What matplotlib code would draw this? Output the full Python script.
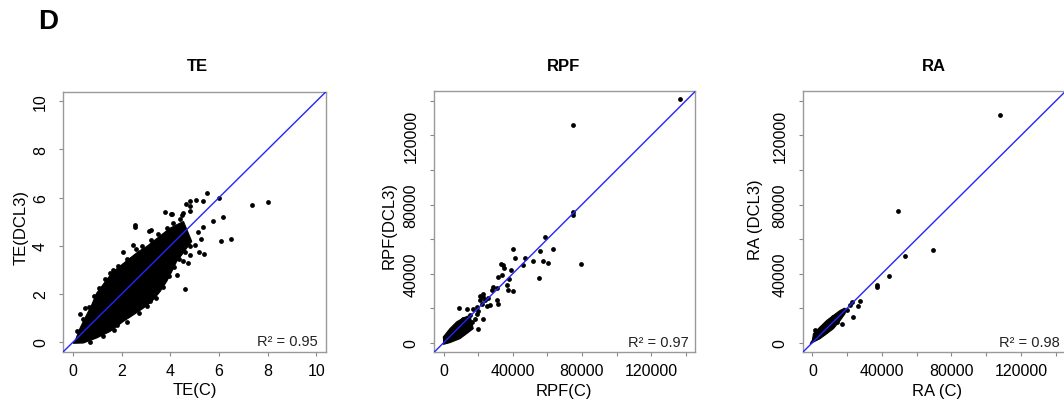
import matplotlib.pyplot as plt
from matplotlib.ticker import FixedLocator

plt.rcParams['font.family'] = ['Liberation Sans', 'DejaVu Sans']

# ---- data ----
# TE: dense core of the cloud (outline) + visible single points
te_cloud_x = [0.0, 0.08, 0.29, 0.56, 0.77, 0.97, 1.18, 1.38, 1.66, 2.0, 2.35, 2.69, 3.03, 3.37,
              3.72, 3.99, 4.26, 4.54, 4.88, 4.67, 4.47, 4.26, 4.06, 3.85, 3.58, 3.24, 2.89, 2.48,
              2.07, 1.52, 0.97, 0.42]
te_cloud_y = [-0.05, 0.03, 0.58, 1.13, 1.55, 2.03, 2.31, 2.59, 2.93, 3.21, 3.49, 3.76, 3.97, 4.24,
              4.52, 4.73, 4.87, 5.01, 4.18, 3.90, 3.62, 3.35, 2.93, 2.52, 2.10, 1.69, 1.41, 1.13,
              0.86, 0.44, 0.17, -0.04]
te_x = [5.50, 5.99, 7.37, 8.01, 6.16, 5.74, 6.09, 6.51, 5.38, 5.06, 5.33, 4.79, 4.65, 4.81, 4.05,
        4.51, 5.25, 5.33, 5.13, 3.11, 2.56, 3.79, 4.02, 4.47, 4.79, 2.55, 3.19, 2.48, 2.07, 1.66,
        1.25, 0.49, 0.29, 4.61, 3.17, 2.28, 1.79, 4.26, 4.54, 4.74, 4.81, 5.02, 5.16,
        0.15, 0.40, 0.65, 0.85, 1.05, 1.30, 1.50, 1.85, 2.20, 2.60, 2.85, 3.20, 3.50, 3.85, 4.10,
        4.40, 0.70, 1.25, 1.70, 2.20, 2.70, 3.05, 3.40, 3.70, 3.95, 4.15, 4.35, 4.60, 4.80]
te_y = [6.18, 5.97, 5.71, 5.81, 5.19, 5.03, 4.20, 4.30, 3.64, 5.90, 5.86, 5.84, 5.73, 5.64, 5.31,
        5.35, 4.29, 4.80, 4.59, 4.63, 4.77, 5.42, 5.31, 5.28, 5.45, 4.87, 4.66, 4.04, 3.76, 3.00,
        2.24, 1.41, 1.16, 2.21, 1.69, 1.11, 0.72, 2.79, 3.35, 3.28, 3.62, 4.04, 3.76,
        0.45, 0.95, 1.45, 1.90, 2.25, 2.60, 2.85, 3.15, 3.45, 3.85, 4.00, 4.25, 4.50, 4.75, 4.95,
        5.10, 0.00, 0.25, 0.50, 0.85, 1.20, 1.50, 1.85, 2.30, 2.75, 3.10, 3.45, 3.75, 4.00]

# RPF
rpf_core_x = [0, -200, 3600, 7500, 11300, 15200, 17100, 13300, 9400, 3600, -200]
rpf_core_y = [0, 3300, 8100, 12000, 14300, 15800, 8100, 5200, 2300, 0, -1000]
rpf_x = [136600, 74900, 74900, 74600, 58600, 40200, 55700, 63400, 41200, 47000, 51800, 57600,
         60100, 79200, 55300, 45700, 33100, 34100, 34900, 38700, 31600, 33500, 37700, 28700,
         30600, 27700, 36400, 37300, 40200, 21000, 22900, 25800, 30600, 31600, 26800, 9000,
         13300, 17100, 19100, 15200, 11300, 20000, 22900, 19100, 22000, 23900, 21000, 22900,
         20000, 24900, 18100, 16200, 14200, 12300]
rpf_y = [141400, 126200, 75500, 74000, 61400, 54300, 53300, 54300, 49000, 49000, 47200, 47000,
         46100, 45700, 37600, 44700, 45700, 44700, 43200, 41800, 38000, 39300, 37000, 32200,
         31600, 30600, 33100, 30600, 29900, 27300, 28300, 25800, 24500, 22500, 21600, 20000,
         19700, 19200, 16800, 15800, 13900, 8100, 13900, 20600, 22500, 24500, 24500, 26400,
         18100, 21200, 13900, 12000, 10000, 8100]

# RA
ra_core_x = [0, 600, 4400, 8300, 12100, 16000, 18800, 18800, 16000, 12100, 8300, 4400, -1300]
ra_core_y = [1500, 5200, 9100, 12900, 15800, 18700, 20000, 16800, 12900, 8100, 5200, 2300, -600]
ra_x = [107700, 49200, 69400, 53000, 43800, 37400, 37400, 27100, 26500, 23600, 22700, 21700,
        19800, 17900, 16000, 12100, 14100, 1600, 16900]
ra_y = [132000, 76100, 53900, 49900, 38600, 33500, 32200, 24400, 21200, 14900, 23500, 21600,
        18700, 18700, 16800, 14900, 12000, 7500, 11000]

panels = [
    dict(title='TE', xl='TE(C)', yl='TE(DCL3)', r2='R² = 0.95', cx=te_cloud_x, cy=te_cloud_y,
         x=te_x, y=te_y, lim=(-0.4, 10.4), major=[0, 2, 4, 6, 8, 10], minor=[],
         rect=[0.0595, 0.1313, 0.2469, 0.6404], tx=0.509, xlx=0.50, ylx=-0.162, yly=0.483,
         r2x=0.970),
    dict(title='RPF', xl='RPF(C)', yl='RPF(DCL3)', r2='R² = 0.97', cx=rpf_core_x, cy=rpf_core_y,
         x=rpf_x, y=rpf_y, lim=(-5600, 145600), major=[0, 40000, 80000, 120000],
         minor=[20000, 60000, 100000, 140000],
         rect=[0.4079, 0.1298, 0.2456, 0.6429], tx=0.497, xlx=0.4975, ylx=-0.171, yly=0.49,
         r2x=0.975),
    dict(title='RA', xl='RA (C)', yl='RA (DCL3)', r2='R² = 0.98', cx=ra_core_x, cy=ra_core_y,
         x=ra_x, y=ra_y, lim=(-5600, 145600), major=[0, 40000, 80000, 120000],
         minor=[20000, 60000, 100000, 140000],
         rect=[0.7544, 0.1298, 0.2470, 0.6429], tx=0.50, xlx=0.513, ylx=-0.178, yly=0.51,
         r2x=0.979),
]

fig = plt.figure(figsize=(10.64, 4.06), dpi=100)
fig.text(0.0355, 0.945, 'D', fontsize=20, fontweight='bold', ha='left', va='center')

for p in panels:
    ax = fig.add_axes(p['rect'])
    ax.fill(p['cx'], p['cy'], color='black', lw=0.8, ec='black', zorder=2)
    ax.scatter(p['x'], p['y'], s=12, color='black', lw=0, zorder=3)
    ax.plot(p['lim'], p['lim'], color='#2424ff', lw=1.0, zorder=4)
    ax.set_xlim(p['lim'])
    ax.set_ylim(p['lim'])
    for a in (ax.xaxis, ax.yaxis):
        a.set_major_locator(FixedLocator(p['major']))
        a.set_minor_locator(FixedLocator(p['minor']))
    ax.set_xticklabels([str(v) for v in p['major']])
    ax.set_yticklabels([str(v) for v in p['major']], rotation=90, va='center')
    ax.tick_params(which='both', length=3, width=0.8, color='#888888', labelsize=11.5)
    ax.tick_params(axis='x', pad=5)
    ax.tick_params(axis='y', pad=8)
    for s in ax.spines.values():
        s.set_color('#999999')
        s.set_linewidth(1.0)
    ax.text(p['tx'], 1.10, p['title'], transform=ax.transAxes,
            ha='center', va='center', fontsize=12, fontweight='bold')
    ax.text(p['xlx'], -0.145, p['xl'], transform=ax.transAxes, ha='center', va='center',
            fontsize=12)
    ax.text(p['ylx'], p['yly'], p['yl'], transform=ax.transAxes, rotation=90, ha='center',
            va='center', fontsize=12)
    ax.text(p['r2x'], 0.04, p['r2'], transform=ax.transAxes, ha='right', va='center',
            fontsize=10.5, color='#222222')

fig.savefig('out.png', dpi=100)
